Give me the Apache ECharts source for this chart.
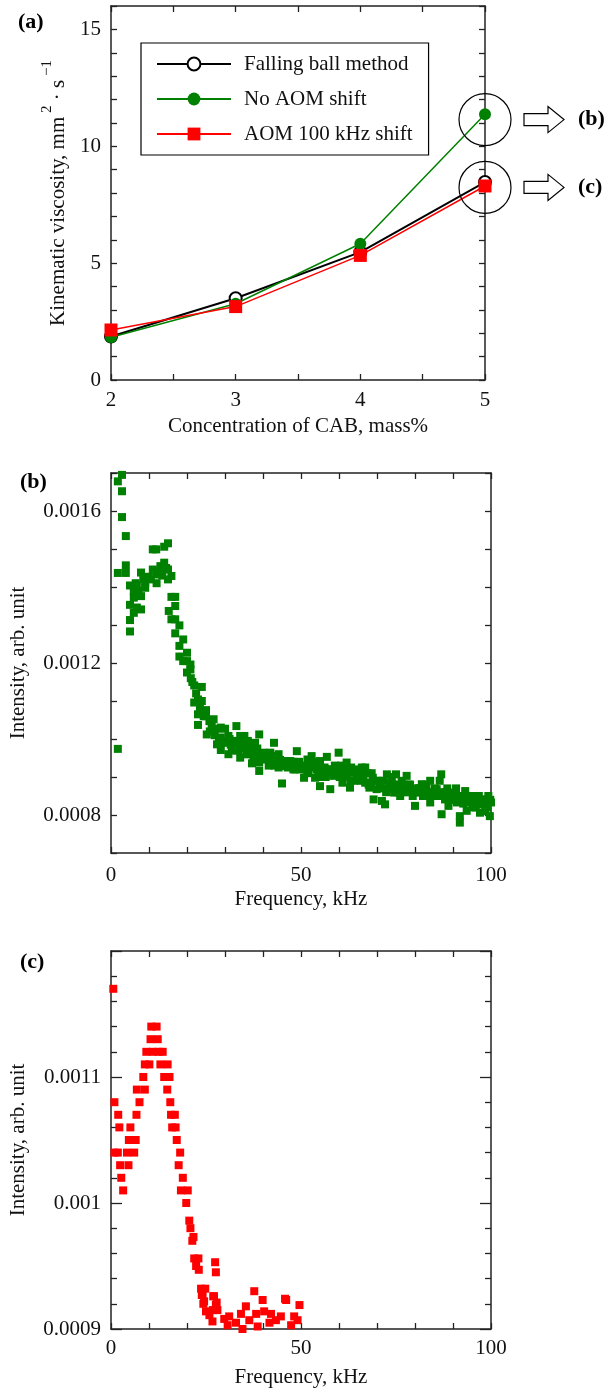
<!DOCTYPE html>
<html>
<head>
<meta charset="utf-8">
<script src="https://cdn.jsdelivr.net/npm/echarts@6/dist/echarts.min.js"></script>
<style>html,body{margin:0;padding:0;background:#fff}#c{width:609px;height:1389px}</style>
</head>
<body>
<div id="c"></div>
<script>
// ---------- Panel (a) data ----------
const concentration = [2, 3, 4, 5];
const fallingBall = [1.86, 3.5, 5.47, 8.47];
const noAomShift = [1.83, 3.26, 5.83, 11.37];
const aom100kHz = [2.14, 3.14, 5.33, 8.3];
const circledPoints = [[5, 11.14], [5, 8.24]];
const yTicksA = [0, 5, 10, 15];
const xTicksBC = [0, 50, 100];
const yTicksB = [0.0008, 0.0012, 0.0016];
const yTicksC = [0.0009, 0.001, 0.0011];

// ---------- Panel (b) data: No AOM shift spectrum ----------
const greenFreq = [
1.8,2.9,2.9,2.9,3.9,1.8,3.9,3.9,1.8,5.0,5.0,5.0,5.0,6.0,6.0,6.0,6.8,6.8,7.9,7.9,7.9,9.0,9.0,9.9,11.0,11.0,11.9,11.9,13.0,13.0,
14.0,14.0,15.0,15.0,15.0,15.9,15.9,16.9,16.9,15.2,15.9,16.9,18.0,16.9,19.0,18.0,18.0,20.0,19.0,20.0,20.9,20.9,20.0,21.9,23.9,21.9,22.9,23.9,22.9,22.9,
25.0,25.0,25.9,27.0,25.2,27.9,28.9,30.0,27.9,28.9,28.9,30.9,30.9,32.1,33.0,33.0,34.0,34.0,35.1,35.1,36.2,37.1,37.9,39.0,37.9,37.1,39.0,39.0,40.1,41.0,
41.9,42.9,42.9,44.1,44.1,45.0,45.0,46.1,47.2,48.0,48.9,48.9,49.8,50.8,51.7,52.8,51.7,53.7,55.0,55.0,55.9,56.8,57.7,57.7,58.5,59.9,59.9,60.9,62.0,62.0,
62.9,63.8,64.7,66.0,66.9,66.9,68.0,68.9,69.1,69.9,71.3,72.1,72.6,73.4,74.5,75.0,76.1,76.9,77.8,78.9,80.0,80.9,81.8,82.6,84.0,84.0,84.8,85.7,86.9,87.0,
87.9,88.8,89.7,91.0,91.8,91.8,93.2,93.6,94.5,95.8,97.1,98.0,98.9,99.7,100,
26.5,29.5,31.5,32.5,34.5,36.0,36.5,38.5,40.5,41.5,43.5,44.5,46.5,47.5,49.5,50.2,52.2,53.2,54.2,54.5,56.2,57.2,58.9,60.2,61.3,63.2,64.0,65.3,66.4,67.5,
68.4,70.4,71.0,72.9,73.9,75.6,76.5,77.3,78.3,79.4,79.8,81.3,82.1,83.3,85.2,86.1,86.5,88.2,89.2,90.3,90.8,92.3,92.7,94.0,95.1,96.3,96.8,97.6,98.5,99.3,
10.5,12.5,13.5,14.5,12.0,8.5,7.2,6.5,
26.0,27.3,28.4,29.0,30.4,31.2,31.8,32.8,33.5,34.8,35.6,36.8,37.5,38.2,39.5,40.8,41.3,42.3,43.0,43.8,45.5,46.8,47.8,48.5,50.5,51.2,52.0,53.0,54.0,55.5,
56.5,58.0,59.2,60.5,61.0,62.4,63.0,64.3,65.0,65.8,67.0,67.8,68.6,70.0,70.8,71.7,72.4,73.7,74.2,75.3,76.3,77.0,78.0,78.7,80.3,81.0,82.3,83.0,83.8,84.5,
85.5,87.3,88.0,88.5,89.5,90.0,91.3,92.0,93.0,93.8,94.8,95.4,96.0,97.3,98.2,99.0,99.8,
21.0,22.4,23.4,24.4,21.4
];
const greenInt = [
0.001678,0.001695,0.001652,0.001584,0.001534,0.001437,0.001437,0.001457,0.000974,0.001404,0.001353,0.001313,0.001283,0.001332,0.001372,0.001389,0.001403,0.001346,0.001438,0.001376,0.001341,0.001411,0.001398,0.001427,0.001499,0.001446,0.001499,0.001433,0.001442,0.001455,
0.001506,0.001464,0.001515,0.001446,0.00142,0.001429,0.001374,0.001374,0.00135,0.001337,0.001315,0.001315,0.001299,0.001278,0.001262,0.001245,0.001217,0.001227,0.001205,0.001205,0.001196,0.001183,0.001175,0.001141,0.001137,0.001096,0.001104,0.0011,0.001065,0.001037,
0.001076,0.00106,0.001047,0.001052,0.001012,0.001027,0.00103,0.001027,0.000986,0.001004,0.000971,0.001008,0.00096,0.000995,0.001034,0.00099,0.001008,0.000951,0.001008,0.000977,0.00096,0.000986,0.00099,0.001012,0.00096,0.000936,0.000938,0.000916,0.000964,0.000946,
0.000964,0.00099,0.000946,0.00096,0.000925,0.000883,0.000929,0.000942,0.000942,0.00092,0.000968,0.000938,0.00092,0.000898,0.000946,0.000955,0.000916,0.000898,0.000876,0.000942,0.000911,0.000953,0.000868,0.00092,0.000903,0.000964,0.000916,0.000885,0.000938,0.000903,
0.000872,0.000911,0.000894,0.000925,0.000925,0.000885,0.000872,0.000898,0.000841,0.000868,0.000837,0.000828,0.000907,0.000885,0.000859,0.000907,0.00085,0.000876,0.000903,0.000868,0.000824,0.000859,0.000881,0.000868,0.00089,0.000833,0.000855,0.000868,0.000907,0.000802,
0.000841,0.000824,0.000859,0.000833,0.00078,0.000797,0.000863,0.000811,0.000833,0.000846,0.000806,0.000828,0.000841,0.000797,0.000833,
0.001035,0.000995,0.000985,0.00097,0.000985,0.000995,0.00097,0.000975,0.00095,0.00093,0.000955,0.000945,0.000925,0.00093,0.00094,0.000925,0.00093,0.000925,0.00092,0.0009,0.000925,0.00091,0.00093,0.0009,0.00092,0.000925,0.00089,0.00091,0.0009,0.00091,
0.000885,0.00089,0.00087,0.00087,0.0009,0.00088,0.00089,0.00086,0.00088,0.00085,0.00087,0.00087,0.00085,0.00086,0.00087,0.00085,0.00089,0.00086,0.00084,0.00085,0.00087,0.00085,0.00083,0.00085,0.00082,0.00083,0.00085,0.00084,0.00081,0.00085,
0.00142,0.00144,0.00143,0.00145,0.00141,0.00142,0.00139,0.00141,
0.00102,0.00101,0.00100,0.00099,0.00099,0.00100,0.00097,0.00098,0.00097,0.00099,0.00096,0.00097,0.00095,0.00096,0.00095,0.00096,0.00095,0.00094,0.00093,0.00094,0.00094,0.00093,0.00094,0.00092,0.00093,0.00092,0.00091,0.00094,0.00093,0.00092,
0.00090,0.00092,0.00091,0.00093,0.00090,0.00092,0.00089,0.00092,0.00090,0.00089,0.00091,0.00088,0.00091,0.00089,0.00088,0.00089,0.00086,0.00087,0.00088,0.00086,0.00087,0.00088,0.00086,0.00088,0.00086,0.00087,0.00086,0.00088,0.00085,0.00086,
0.00085,0.00086,0.00085,0.00087,0.00085,0.00084,0.00085,0.00084,0.00084,0.00085,0.00084,0.00085,0.00082,0.00083,0.00084,0.00082,0.00084,
0.00116,0.00112,0.00108,0.00106,0.00115
];

// ---------- Panel (c) data: AOM 100 kHz shift spectrum ----------
const redFreq = [
0.6,10.6,12.0,10.4,12.3,9.3,11.0,12.5,13.6,8.9,10.1,13.0,14.9,8.5,14.0,15.4,6.8,8.9,14.8,0.9,7.5,15.6,1.9,6.7,15.8,16.8,2.2,5.1,16.1,17.0,
4.7,6.5,17.3,0.9,1.8,4.2,6.1,18.2,2.4,4.6,17.8,2.7,18.9,3.2,18.4,20.2,19.8,20.6,20.9,21.7,21.4,21.9,23.0,22.4,23.1,27.4,27.6,
23.7,24.1,24.5,25.0,26.9,27.6,26.7,29.8,30.7,32.9,34.2,34.6,35.5,36.4,37.7,38.2,38.6,39.9,40.3,41.7,42.1,43.4,44.7,46.1,47.4,48.2,49.6,49.1,
27.1,27.8,24.3,26.8,28.0,25.9,31.1,45.8,24.8,23.9
];
const redInt = [
0.00117,0.00114,0.00114,0.00113,0.00113,0.00112,0.00112,0.00112,0.00112,0.00111,0.00111,0.00111,0.00111,0.0011,0.0011,0.0011,0.00109,0.00109,0.00109,0.00108,0.00108,0.00108,0.00107,0.00107,0.00107,0.00107,0.00106,0.00106,0.00106,0.00106,
0.00105,0.00105,0.00105,0.00104,0.00104,0.00104,0.00104,0.00104,0.00103,0.00103,0.00103,0.00102,0.00102,0.00101,0.00101,0.00101,0.001,0.000986,0.00098,0.000973,0.00097,0.000956,0.000956,0.00095,0.000947,0.000953,0.000945,
0.000932,0.000928,0.000922,0.000914,0.000926,0.000919,0.000906,0.000908,0.000903,0.000905,0.000912,0.0009,0.000918,0.000907,0.00093,0.000912,0.000902,0.000923,0.000914,0.000905,0.000912,0.000907,0.00091,0.000923,0.000903,0.00091,0.000919,0.000907,
0.000926,0.000921,0.00092,0.000915,0.000915,0.000911,0.00091,0.000924,0.000932,0.000927
];

const FONT = 'Liberation Serif';
const AX = '#222';
const zip = (a, b) => a.map((v, i) => [v, b[i]]);
const near = (v, list, eps) => list.some(t => Math.abs(v - t) < eps);
const fmtNum = v => String(parseFloat(v.toFixed(4)));

function xAx(grid, min, max, interval, opts) {
  return Object.assign({
    type: 'value', gridIndex: grid, min, max, interval,
    axisLine: { show: true, onZero: false, lineStyle: { color: AX, width: 1.5 } },
    axisTick: { show: true, inside: true, length: 6, lineStyle: { color: AX, width: 1.3 } },
    splitLine: { show: false },
    axisLabel: { show: false }
  }, opts);
}
const yAx = xAx;

const labelStyle = { fontFamily: FONT, fontSize: 21, color: '#111' };

const option = {
  animation: false,
  backgroundColor: '#fff',
  grid: [
    { left: 111, top: 6, width: 374, height: 374 },
    { left: 111, top: 473, width: 380, height: 380 },
    { left: 111, top: 951, width: 380, height: 378 }
  ],
  xAxis: [
    xAx(0, 2, 5, 1, {
      position: 'bottom',
      minorTick: { show: true, splitNumber: 2, length: 6, lineStyle: { color: AX, width: 1.3 } },
      axisLabel: Object.assign({ show: true, margin: 10 }, labelStyle),
      name: 'Concentration of CAB, mass%', nameLocation: 'middle', nameGap: 36,
      nameTextStyle: labelStyle
    }),
    xAx(0, 2, 5, 1, { position: 'top',
      minorTick: { show: true, splitNumber: 2, length: 6, lineStyle: { color: AX, width: 1.3 } } }),
    xAx(1, 0, 100, 10, {
      position: 'bottom',
      axisLabel: Object.assign({ show: true, margin: 12,
        formatter: v => near(v, xTicksBC, 1e-6) ? String(Math.round(v)) : '' }, labelStyle),
      name: 'Frequency, kHz', nameLocation: 'middle', nameGap: 36, nameTextStyle: labelStyle
    }),
    xAx(1, 0, 100, 10, { position: 'top' }),
    xAx(2, 0, 100, 10, {
      position: 'bottom',
      axisLabel: Object.assign({ show: true, margin: 9,
        formatter: v => near(v, xTicksBC, 1e-6) ? String(Math.round(v)) : '' }, labelStyle),
      name: 'Frequency, kHz', nameLocation: 'middle', nameGap: 38, nameTextStyle: labelStyle
    }),
    xAx(2, 0, 100, 10, { position: 'top' })
  ],
  yAxis: [
    yAx(0, 0, 16, 1, {
      position: 'left',
      axisLabel: Object.assign({ show: true, margin: 10,
        formatter: v => near(v, yTicksA, 1e-6) ? String(Math.round(v)) : '' }, labelStyle),
      name: '{t|Kinematic viscosity, mm}{s| 2}{t| · s}{s| −1}',
      nameLocation: 'middle', nameGap: 40, nameRotate: 90,
      nameTextStyle: {
        rich: {
          t: { fontFamily: FONT, fontSize: 21, color: '#111', lineHeight: 30, verticalAlign: 'bottom' },
          s: { fontFamily: FONT, fontSize: 15, color: '#111', lineHeight: 30, verticalAlign: 'top' }
        }
      }
    }),
    yAx(0, 0, 16, 1, { position: 'right' }),
    yAx(1, 0.0007, 0.0017, 0.0001, {
      position: 'left',
      axisLabel: Object.assign({ show: true, margin: 10,
        formatter: v => near(v, yTicksB, 1e-8) ? fmtNum(v) : '' }, labelStyle),
      name: 'Intensity, arb. unit', nameLocation: 'middle', nameGap: 82, nameRotate: 90,
      nameTextStyle: labelStyle
    }),
    yAx(1, 0.0007, 0.0017, 0.0001, { position: 'right' }),
    yAx(2, 0.0009, 0.0012, 0.0001, {
      position: 'left',
      axisTick: { show: true, inside: true, length: 11, lineStyle: { color: AX, width: 1.3 } },
      minorTick: { show: true, splitNumber: 5, length: 6, lineStyle: { color: AX, width: 1.3 } },
      axisLabel: Object.assign({ show: true, margin: 10,
        formatter: v => near(v, yTicksC, 1e-8) ? fmtNum(v) : '' }, labelStyle),
      name: 'Intensity, arb. unit', nameLocation: 'middle', nameGap: 82, nameRotate: 90,
      nameTextStyle: labelStyle
    }),
    yAx(2, 0.0009, 0.0012, 0.0001, { position: 'right',
      axisTick: { show: true, inside: true, length: 11, lineStyle: { color: AX, width: 1.3 } },
      minorTick: { show: true, splitNumber: 5, length: 6, lineStyle: { color: AX, width: 1.3 } } })
  ],
  legend: {
    data: ['Falling ball method', 'No AOM shift', 'AOM 100 kHz shift'],
    orient: 'vertical', left: 141, top: 43,
    backgroundColor: '#fff', borderColor: '#000', borderWidth: 1.2, borderRadius: 0,
    padding: [9, 16, 9, 15],
    itemWidth: 74, itemHeight: 16, itemGap: 11,
    textStyle: { fontFamily: FONT, fontSize: 21, color: '#111', lineHeight: 24, padding: [0, 0, 0, 8] },
    selectedMode: false
  },
  series: [
    { name: 'Falling ball method', type: 'line', xAxisIndex: 0, yAxisIndex: 0,
      data: zip(concentration, fallingBall), symbol: 'emptyCircle', symbolSize: 12,
      lineStyle: { color: '#000', width: 2 }, itemStyle: { color: '#000', borderWidth: 1.2 }, z: 2,
      markPoint: {
        symbol: 'circle', symbolSize: 52, silent: true,
        itemStyle: { color: 'rgba(0,0,0,0)', borderColor: '#000', borderWidth: 1.2 },
        label: { show: false },
        data: circledPoints.map(p => ({ coord: p }))
      }
    },
    { name: 'No AOM shift', type: 'line', xAxisIndex: 0, yAxisIndex: 0,
      data: zip(concentration, noAomShift), symbol: 'circle', symbolSize: 12,
      lineStyle: { color: '#008000', width: 1.5 }, itemStyle: { color: '#008000' }, z: 3 },
    { name: 'AOM 100 kHz shift', type: 'line', xAxisIndex: 0, yAxisIndex: 0,
      data: zip(concentration, aom100kHz), symbol: 'rect', symbolSize: 13,
      lineStyle: { color: '#ff0000', width: 1.5 }, itemStyle: { color: '#ff0000' }, z: 4 },
    { name: 'b-spectrum', type: 'scatter', xAxisIndex: 2, yAxisIndex: 2,
      data: zip(greenFreq, greenInt), symbol: 'rect', symbolSize: 8,
      itemStyle: { color: '#008000', opacity: 1 }, clip: true },
    { name: 'c-spectrum', type: 'scatter', xAxisIndex: 4, yAxisIndex: 4,
      data: zip(redFreq, redInt), symbol: 'rect', symbolSize: 8,
      itemStyle: { color: '#ff0000', opacity: 1 }, clip: true }
  ]
};

const chart = echarts.init(document.getElementById('c'), null, { renderer: 'canvas' });
chart.setOption(option);

function arrow(cy) {
  return { type: 'polygon', shape: { points: [[524, cy - 6], [548, cy - 6], [548, cy - 13], [564, cy], [548, cy + 13], [548, cy + 6], [524, cy + 6]] },
    style: { fill: '#fff', stroke: '#000', lineWidth: 1.2 } };
}
const yb = chart.convertToPixel({ xAxisIndex: 0, yAxisIndex: 0 }, circledPoints[0])[1];
const yc = chart.convertToPixel({ xAxisIndex: 0, yAxisIndex: 0 }, circledPoints[1])[1];
const boldStyle = { fontFamily: FONT, fontSize: 22, fontWeight: 'bold', fill: '#000' };
chart.setOption({
  graphic: [
    { type: 'text', left: 18, top: 11, style: Object.assign({ text: '(a)' }, boldStyle) },
    { type: 'text', left: 20, top: 471, style: Object.assign({ text: '(b)' }, boldStyle) },
    { type: 'text', left: 20, top: 951, style: Object.assign({ text: '(c)' }, boldStyle) },
    arrow(yb), arrow(yc),
    { type: 'text', x: 578, y: yb, style: Object.assign({ text: '(b)', verticalAlign: 'middle' }, boldStyle) },
    { type: 'text', x: 578, y: yc, style: Object.assign({ text: '(c)', verticalAlign: 'middle' }, boldStyle) }
  ]
});
</script>
</body>
</html>
